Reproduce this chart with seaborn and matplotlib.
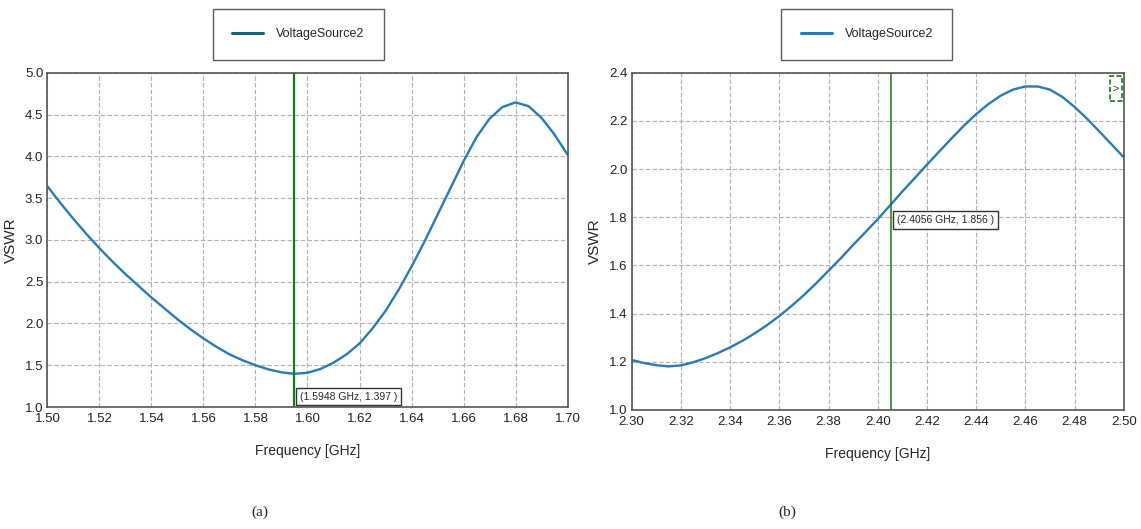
import seaborn as sns
import matplotlib.pyplot as plt
import matplotlib.patches as mpatches
from matplotlib.lines import Line2D
import pandas as pd

# VSWR
freq_a = [1.500, 1.505, 1.510, 1.515, 1.520, 1.525, 1.530, 1.535, 1.540, 1.545,
          1.550, 1.555, 1.560, 1.565, 1.570, 1.575, 1.580, 1.585, 1.590, 1.5948,
          1.600, 1.605, 1.610, 1.615, 1.620, 1.625, 1.630, 1.635, 1.640, 1.645,
          1.650, 1.655, 1.660, 1.665, 1.670, 1.675, 1.680, 1.685, 1.690, 1.695, 1.700]
vswr_a = [3.64, 3.44, 3.25, 3.07, 2.90, 2.74, 2.59, 2.45, 2.31, 2.18,
          2.05, 1.93, 1.82, 1.72, 1.63, 1.56, 1.50, 1.45, 1.415, 1.397,
          1.41, 1.455, 1.53, 1.63, 1.76, 1.94, 2.15, 2.40, 2.68, 2.98,
          3.30, 3.62, 3.94, 4.23, 4.45, 4.59, 4.645, 4.60, 4.46, 4.26, 4.02]

freq_b = [2.300, 2.305, 2.310, 2.315, 2.320, 2.325, 2.330, 2.335, 2.340, 2.345,
          2.350, 2.355, 2.360, 2.365, 2.370, 2.375, 2.380, 2.385, 2.390, 2.395,
          2.400, 2.4056, 2.410, 2.415, 2.420, 2.425, 2.430, 2.435, 2.440, 2.445,
          2.450, 2.455, 2.460, 2.465, 2.470, 2.475, 2.480, 2.485, 2.490, 2.495, 2.500]
vswr_b = [1.2075, 1.195, 1.186, 1.181, 1.185, 1.198, 1.215, 1.236, 1.26, 1.287,
          1.318, 1.352, 1.39, 1.432, 1.477, 1.526, 1.578, 1.63, 1.685, 1.738,
          1.792, 1.856, 1.907, 1.962, 2.018, 2.073, 2.127, 2.18, 2.228, 2.27,
          2.305, 2.33, 2.343, 2.343, 2.33, 2.30, 2.258, 2.21, 2.157, 2.103, 2.049]

xticks_a = [1.50, 1.52, 1.54, 1.56, 1.58, 1.60, 1.62, 1.64, 1.66, 1.68, 1.70]
yticks_a = [1.0, 1.5, 2.0, 2.5, 3.0, 3.5, 4.0, 4.5, 5.0]
xticks_b = [2.30, 2.32, 2.34, 2.36, 2.38, 2.40, 2.42, 2.44, 2.46, 2.48, 2.50]
yticks_b = [1.0, 1.2, 1.4, 1.6, 1.8, 2.0, 2.2, 2.4]

marker_a = (1.5948, 1.397)
marker_b = (2.4056, 1.856)
series = "VoltageSource2"
captions = ["(a)", "(b)"]

sns.set_style("white")
plt.rcParams["font.family"] = ["Liberation Sans", "DejaVu Sans"]

curve_col = "#2a7ab5"
legend_col = "#1d6178"
marker_col = "#1a7a1a"

fig = plt.figure(figsize=(11.41, 5.29), dpi=100)
ax_a = fig.add_axes([0.0416, 0.2306, 0.4558, 0.6319])
ax_b = fig.add_axes([0.5536, 0.2250, 0.4313, 0.6375])

panels = [
    (ax_a, freq_a, vswr_a, xticks_a, yticks_a, marker_a, (1.50, 1.70), (1.0, 5.0)),
    (ax_b, freq_b, vswr_b, xticks_b, yticks_b, marker_b, (2.30, 2.50), (1.0, 2.4)),
]

for i, (ax, fx, vy, xt, yt, mk, xl, yl) in enumerate(panels):
    df = pd.DataFrame({"Frequency": fx, "VSWR": vy})
    sns.lineplot(data=df, x="Frequency", y="VSWR", ax=ax, color=curve_col,
                 linewidth=1.7, legend=False)
    ax.set_xlim(*xl)
    ax.set_ylim(*yl)
    ax.set_xticks(xt)
    ax.set_yticks(yt)
    ax.set_xticklabels([f"{v:.2f}" for v in xt])
    ax.set_yticklabels([f"{v:.1f}" for v in yt])
    ax.tick_params(axis="x", length=0, pad=4, labelsize=9.5, colors="#222222")
    ax.tick_params(axis="y", length=0, pad=3, labelsize=9.5, colors="#222222")
    ax.grid(True, linestyle=(0, (4, 2)), color="#b0b0b0", linewidth=0.8)
    for s in ax.spines.values():
        s.set_color("#555555")
        s.set_linewidth(1.2)
    ax.set_xlabel("Frequency [GHz]", fontsize=10, labelpad=14)
    ax.set_ylabel("VSWR", fontsize=11, labelpad=5)
    ax.axvline(mk[0], color=marker_col, linewidth=1.6 if i == 0 else 1.1)
    ax.annotate(f"({mk[0]:.4f} GHz, {mk[1]:.3f} )", xy=mk,
                xytext=(4, -20 if i == 0 else -8), textcoords="offset points",
                va="top" if i == 1 else "bottom", ha="left", fontsize=7.5,
                bbox=dict(boxstyle="square,pad=0.35", fc="white", ec="#333333", lw=1))
    handle = Line2D([0], [0], color=legend_col if i == 0 else curve_col, linewidth=2.2)
    leg = ax.legend([handle], [series], loc="lower center",
                    bbox_to_anchor=(0.482 if i == 0 else 0.478, 1.039),
                    frameon=True, fancybox=False, fontsize=9, handlelength=2.5,
                    borderpad=1.55, handletextpad=1.0, borderaxespad=0)
    leg.get_frame().set_edgecolor("#333333")
    leg.get_frame().set_linewidth(1.0)

# small collapsed marker tab in panel (b)
ax_b.add_patch(mpatches.Rectangle((0.972, 0.915), 0.024, 0.075, transform=ax_b.transAxes,
                                  fill=False, ec=marker_col, lw=1.2, ls=(0, (3, 1.5))))
ax_b.text(0.984, 0.952, ">", transform=ax_b.transAxes, ha="center", va="center",
          fontsize=8, color="#333333")

fig.text(0.228, 0.032, captions[0], ha="center", va="center", fontsize=11,
         family=["Liberation Serif", "DejaVu Serif"])
fig.text(0.690, 0.032, captions[1], ha="center", va="center", fontsize=11,
         family=["Liberation Serif", "DejaVu Serif"])

fig.savefig("out.png", dpi=100)
